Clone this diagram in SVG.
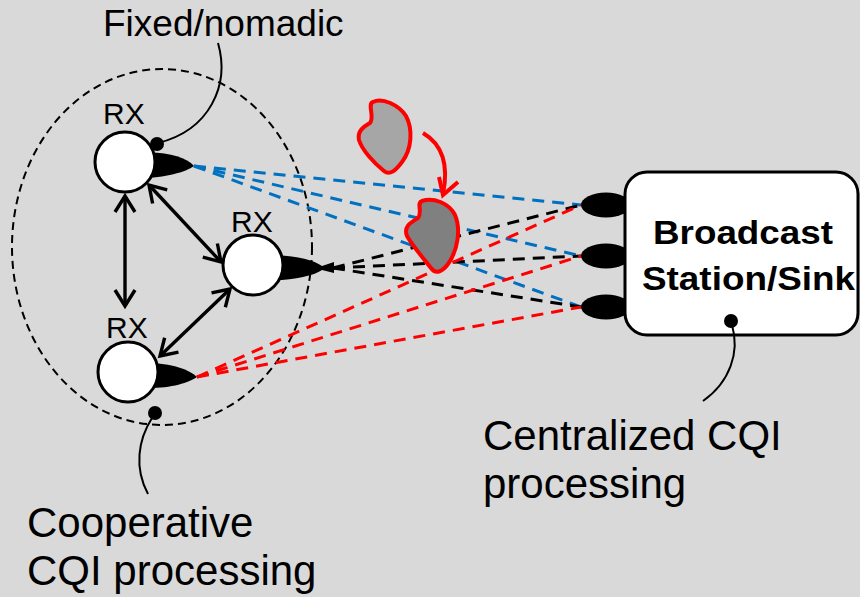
<svg xmlns="http://www.w3.org/2000/svg" width="860" height="597" viewBox="0 0 860 597">
  <style>
    .lbl { font-family: "Liberation Sans", Arial, sans-serif; fill: #000; }
    .rx { font-size: 30px; }
    .big { font-size: 42px; }
    .ray { fill: none; stroke-width: 3; stroke-dasharray: 12 8; }
    .blue { stroke: #0070c0; }
    .red { stroke: #ff0000; }
    .blk { stroke: #000; }
    .node { fill: #fff; stroke: #000; stroke-width: 3; }
    .ant { fill: #000; }
    .link { fill: none; stroke: #000; stroke-width: 3.4; marker-start: url(#chev); marker-end: url(#chev); }
    .call { fill: none; stroke: #000; stroke-width: 2; }
  </style>
  <defs>
    <marker id="chev" markerUnits="userSpaceOnUse" viewBox="-20 -14 24 28" markerWidth="24" markerHeight="28" refX="0" refY="0" orient="auto-start-reverse" overflow="visible">
      <path d="M-16,-10 L0,0 L-16,10" fill="none" stroke="#000" stroke-width="3.4" stroke-linejoin="miter"/>
    </marker>
  </defs>

  <rect width="860" height="597" fill="#d9d9d9"/>

  <!-- cooperative cluster boundary -->
  <ellipse id="cluster" cx="162" cy="247" rx="150" ry="178" fill="none" stroke="#000" stroke-width="2" stroke-dasharray="8 5"/>

  <!-- radio links to the station antennas -->
  <g id="connectors">
    <g class="ray blue">
      <line x1="194" y1="166" x2="581" y2="205"/>
      <line x1="194" y1="166" x2="581" y2="256"/>
      <line x1="194" y1="166" x2="581" y2="307"/>
    </g>
    <g class="ray blk">
      <line x1="333" y1="268" x2="581" y2="205"/>
      <line x1="333" y1="268" x2="581" y2="256"/>
      <line x1="333" y1="268" x2="581" y2="307"/>
    </g>
    <g class="ray red">
      <line x1="197" y1="377" x2="581" y2="205"/>
      <line x1="197" y1="377" x2="581" y2="256"/>
      <line x1="197" y1="377" x2="581" y2="307"/>
    </g>
    <!-- links between receivers -->
    <line class="link" x1="125" y1="196" x2="125" y2="306"/>
    <line class="link" x1="149" y1="185" x2="221" y2="262"/>
    <line class="link" x1="230" y1="289" x2="160" y2="356"/>
  </g>

  <!-- moving obstacle -->
  <g id="obstacle">
    <path d="M373,102 C382,97 399,105 406,116 C413,129 412,149 402,162 C396,170 390,176 384,171 C374,163 362,150 359,140 C357,130 365,126 370,123 C375,117 367,104 373,102 Z" fill="#a6a6a6" stroke="#ff0000" stroke-width="4"/>
    <path d="M423,133 Q452,150 443,194" fill="none" stroke="#ff0000" stroke-width="4"/>
    <path d="M439,177 L443,195 L458,182" fill="none" stroke="#ff0000" stroke-width="4"/>
    <path d="M422,201 C433,197 449,203 455,215 C461,229 458,250 448,264 C443,271 436,275 431,268 C423,258 412,245 407,236 C403,226 412,222 418,218 C423,212 416,203 422,201 Z" fill="#808080" stroke="#ff0000" stroke-width="4"/>
  </g>

  <g id="rx-top">
    <path class="ant" d="M140,153 C165,151 186,157 194,166 C186,172 165,178 140,178 Z"/>
    <circle class="node" cx="125" cy="162" r="30"/>
    <text class="lbl rx" x="103" y="124">RX</text>
  </g>

  <g id="rx-mid">
    <path class="ant" d="M268,256 C292,254 313,260 322,266 L334,262 L334,273 L322,270 C313,276 292,281 268,280 Z"/>
    <circle class="node" cx="253" cy="265" r="30"/>
    <text class="lbl rx" x="231" y="232">RX</text>
  </g>

  <g id="rx-bot">
    <path class="ant" d="M143,363 C168,362 189,369 197,377 C189,383 168,389 143,388 Z"/>
    <circle class="node" cx="128" cy="372" r="30"/>
    <text class="lbl rx" x="106" y="338">RX</text>
  </g>

  <g id="station">
    <ellipse class="ant" cx="606" cy="205" rx="25" ry="12.5"/>
    <ellipse class="ant" cx="606" cy="256" rx="25" ry="12.5"/>
    <ellipse class="ant" cx="606" cy="307" rx="25" ry="12.5"/>
    <rect x="625" y="172" width="233" height="163" rx="22" fill="#fff" stroke="#000" stroke-width="3"/>
    <text class="lbl" x="653" y="244" font-size="34" font-weight="bold" textLength="180" lengthAdjust="spacingAndGlyphs">Broadcast</text>
    <text class="lbl" x="642" y="290" font-size="34" font-weight="bold" textLength="213" lengthAdjust="spacingAndGlyphs">Station/Sink</text>
  </g>

  <g id="note-fixed">
    <text class="lbl" x="103" y="36" font-size="37">Fixed/nomadic</text>
    <path class="call" d="M218,43 C230,85 210,130 158,143"/>
    <circle cx="157" cy="144" r="7"/>
  </g>

  <g id="note-coop">
    <circle cx="155" cy="413" r="7"/>
    <path class="call" d="M152,418 C138,440 134,468 148,494"/>
    <text class="lbl big" x="27" y="537">Cooperative</text>
    <text class="lbl big" x="27" y="585">CQI processing</text>
  </g>

  <g id="note-central">
    <circle cx="731" cy="321" r="7"/>
    <path class="call" d="M732,325 C740,352 730,382 703,401"/>
    <text class="lbl big" x="483" y="450">Centralized CQI</text>
    <text class="lbl big" x="483" y="498">processing</text>
  </g>
</svg>
